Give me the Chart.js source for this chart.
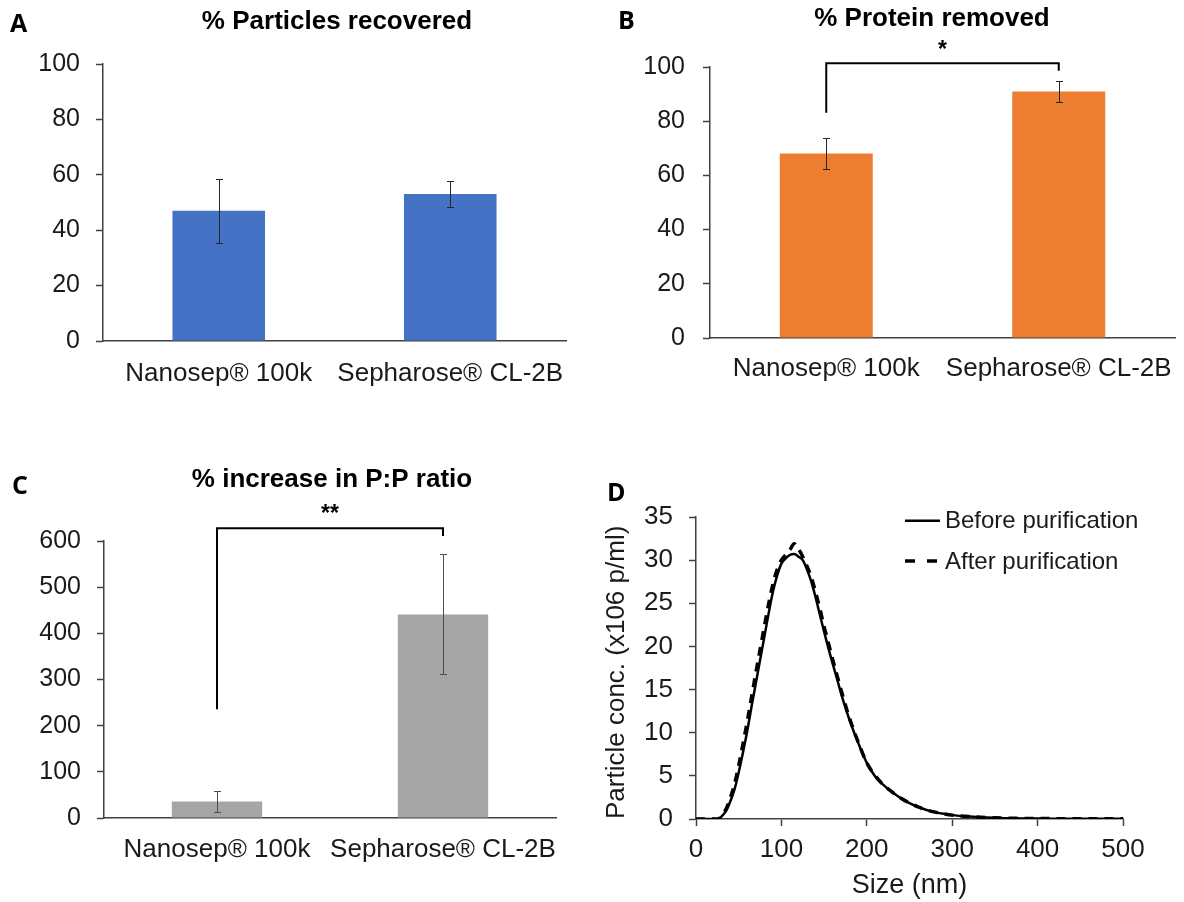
<!DOCTYPE html>
<html lang="en">
<head>
<meta charset="utf-8">
<title>Particle purification comparison</title>
<script src="https://cdn.jsdelivr.net/npm/chart.js@4.4.1/dist/chart.umd.min.js"></script>
<style>
  html, body { margin: 0; padding: 0; background: #ffffff; }
  #fig { position: relative; width: 1184px; height: 902px; overflow: hidden; background: #ffffff; }
  #fig canvas { position: absolute; }
  .panel-label { position: absolute; font-family: "Open Sans", "DejaVu Sans", sans-serif; font-weight: 700; font-size: 25px; line-height: 25px; color: #000; }
</style>
</head>
<body>
<div id="fig">
  <canvas id="chartA" width="590" height="420" style="left:0px;top:0px"></canvas>
  <canvas id="chartB" width="594" height="420" style="left:590px;top:0px"></canvas>
  <canvas id="chartC" width="590" height="442" style="left:0px;top:460px"></canvas>
  <canvas id="chartD" width="594" height="432" style="left:590px;top:470px"></canvas>
  <div class="panel-label" style="left:10px;top:10px">A</div>
  <div class="panel-label" style="left:618px;top:7px">B</div>
  <div class="panel-label" style="left:12px;top:472px">C</div>
  <div class="panel-label" style="left:607px;top:479px">D</div>
</div>
<script>
// ---------------- data ----------------
const categories = ['Nanosep® 100k', 'Sepharose® CL-2B'];

const particlesRecovered    = [47.0, 53.1];
const particlesRecoveredErr = [11.5, 4.6];

const proteinRemoved    = [68.1, 91.0];
const proteinRemovedErr = [5.8, 4.0];

const ppRatioIncrease    = [35.5, 441];
const ppRatioIncreaseErr = [23, 130];

const barTicks100 = [0, 20, 40, 60, 80, 100];
const barTicks600 = [0, 100, 200, 300, 400, 500, 600];
const sizeTicks   = [0, 100, 200, 300, 400, 500];
const concTicks   = [0, 5, 10, 15, 20, 25, 30, 35];

const sizeNm = [0, 10, 20, 26,
  30, 35, 40, 45, 50, 55, 60, 65, 70, 75, 80, 85, 90, 95, 100, 105, 110, 115, 120, 125, 130, 135, 140, 145, 150, 155, 160, 165, 170, 175, 180,
  190, 200, 210, 220, 230, 240, 250, 260, 270, 280, 290, 300,
  320, 340, 360, 380, 400,
  425, 450, 475, 500];
const beforePurification = [0, 0, 0, 0,
  0.3, 0.9, 2.0, 3.4, 5.4, 7.7, 10.2, 13.0, 15.7, 18.4, 21.1, 23.8, 26.3, 28.2, 29.6, 30.2, 30.6, 30.7, 30.4, 30.0, 28.9, 27.5, 25.7, 23.7, 21.7, 19.8, 18.0, 16.3, 14.5, 12.9, 11.4,
  8.8, 6.5, 4.9, 3.9, 3.1, 2.4, 1.85, 1.4, 1.05, 0.8, 0.6, 0.45,
  0.28, 0.17, 0.1, 0.07, 0.05,
  0.04, 0.03, 0.02, 0.02];
const afterPurification = [0, 0, 0, 0,
  0.4, 1.1, 2.4, 4.0, 6.2, 8.7, 11.3, 14.1, 16.9, 19.6, 22.3, 24.9, 27.2, 28.9, 30.0, 30.6, 31.2, 31.9, 31.3, 30.4, 29.3, 28.0, 26.3, 24.4, 22.3, 20.4, 18.5, 16.7, 14.9, 13.2, 11.6,
  8.9, 6.5, 5.0, 3.9, 3.1, 2.4, 1.85, 1.4, 1.05, 0.8, 0.6, 0.45,
  0.28, 0.17, 0.1, 0.07, 0.05,
  0.04, 0.03, 0.02, 0.02];

// ---------------- styling ----------------
const FONT = '"Liberation Sans", Arial, Helvetica, sans-serif';
Chart.defaults.font.family = FONT;
Chart.defaults.color = '#1a1a1a';
Chart.defaults.animation = false;
const AXIS = '#404040';
const Y_FONT = 25;
const X_FONT = 26;

function fixWidth(w) {
  return s => { s.width = w; s.paddingTop = 0; s.paddingBottom = 0; };
}
function fixHeight(h) {
  return s => { s.height = h; s.paddingLeft = 0; s.paddingRight = 0; };
}

// draws titles, error bars, significance brackets and the line legend
const decoPlugin = {
  id: 'deco',
  afterDraw(chart, args, o) {
    const ctx = chart.ctx;
    const xs = chart.scales.x, ys = chart.scales.y;
    ctx.save();
    if (o.errors) {
      const meta = chart.getDatasetMeta(0);
      const vals = chart.data.datasets[0].data;
      ctx.strokeStyle = o.errorColor || '#333';
      ctx.lineWidth = 1;
      meta.data.forEach((bar, i) => {
        const x = Math.round(bar.x) + 0.5;
        const yHi = Math.round(ys.getPixelForValue(vals[i] + o.errors[i])) + 0.5;
        const yLo = Math.round(ys.getPixelForValue(vals[i] - o.errors[i])) + 0.5;
        ctx.beginPath();
        ctx.moveTo(x, yHi); ctx.lineTo(x, yLo);
        ctx.moveTo(x - 3.5, yHi); ctx.lineTo(x + 3.5, yHi);
        ctx.moveTo(x - 3.5, yLo); ctx.lineTo(x + 3.5, yLo);
        ctx.stroke();
      });
    }
    if (o.bracket) {
      const b = o.bracket;
      const x1 = xs.getPixelForValue(b.from), x2 = xs.getPixelForValue(b.to);
      const yTop = ys.getPixelForValue(b.top);
      const y1 = ys.getPixelForValue(b.leftEnd), y2 = ys.getPixelForValue(b.rightEnd);
      ctx.strokeStyle = '#000';
      ctx.lineWidth = 2;
      ctx.beginPath();
      ctx.moveTo(x1, y1); ctx.lineTo(x1, yTop); ctx.lineTo(x2, yTop); ctx.lineTo(x2, y2);
      ctx.stroke();
      ctx.fillStyle = '#000';
      ctx.font = 'bold 23px ' + FONT;
      ctx.textAlign = 'center';
      ctx.textBaseline = 'middle';
      ctx.fillText(b.label, (x1 + x2) / 2, ys.getPixelForValue(b.labelAt));
    }
    if (o.title) {
      ctx.fillStyle = '#000';
      ctx.font = 'bold 26px ' + FONT;
      ctx.textAlign = 'center';
      ctx.textBaseline = 'middle';
      ctx.fillText(o.title.text, o.title.x, o.title.y);
    }
    if (o.legend) {
      const L = o.legend;
      chart.data.datasets.forEach((ds, i) => {
        const y = L.rows[i];
        ctx.strokeStyle = ds.borderColor;
        ctx.lineWidth = ds.borderWidth;
        ctx.setLineDash(L.dashes[i]);
        ctx.beginPath();
        ctx.moveTo(L.x, y); ctx.lineTo(L.x + L.sample, y);
        ctx.stroke();
        ctx.setLineDash([]);
        ctx.fillStyle = '#1a1a1a';
        ctx.font = L.fontSize + 'px ' + FONT;
        ctx.textAlign = 'left';
        ctx.textBaseline = 'middle';
        ctx.fillText(ds.label, L.x + L.sample + L.gap, y + 1);
      });
    }
    ctx.restore();
  }
};

function barConfig(values, errs, color, ticksList, o) {
  return {
    type: 'bar',
    data: {
      labels: categories,
      datasets: [{ data: values, backgroundColor: color, borderWidth: 0, barPercentage: 0.4, categoryPercentage: 1.0 }]
    },
    options: {
      responsive: false, maintainAspectRatio: false, animation: false,
      layout: { padding: { left: 0, top: o.top, right: o.right, bottom: 0 } },
      plugins: {
        legend: { display: false }, tooltip: { enabled: false },
        deco: { title: o.title, errors: errs, errorColor: o.errorColor, bracket: o.bracket }
      },
      scales: {
        x: {
          grid: { display: false, drawTicks: false },
          border: { display: true, color: AXIS, width: 1.5 },
          ticks: { padding: o.xPad, maxRotation: 0, minRotation: 0, autoSkip: false, font: { size: X_FONT }, color: '#1a1a1a' },
          afterFit: fixHeight(o.xHeight)
        },
        y: {
          min: ticksList[0], max: ticksList[ticksList.length - 1],
          afterBuildTicks: s => { s.ticks = ticksList.map(v => ({ value: v })); },
          grid: { drawOnChartArea: false, drawTicks: true, tickLength: 7, color: AXIS, tickWidth: 1.5 },
          border: { display: true, color: AXIS, width: 1.5 },
          ticks: { padding: o.yPad, font: { size: Y_FONT }, color: '#1a1a1a' },
          afterFit: fixWidth(o.yWidth)
        }
      }
    },
    plugins: [decoPlugin]
  };
}

new Chart(document.getElementById('chartA'), barConfig(particlesRecovered, particlesRecoveredErr, '#4472C4', barTicks100, {
  top: 64, right: 24, xHeight: 79, yWidth: 103, yPad: 16, xPad: 17, errorColor: '#262626',
  title: { text: '% Particles recovered', x: 337, y: 22 }
}));

new Chart(document.getElementById('chartB'), barConfig(proteinRemoved, proteinRemovedErr, '#ED7D31', barTicks100, {
  top: 67, right: 9, xHeight: 82, yWidth: 120, yPad: 18, xPad: 15.5, errorColor: '#262626',
  title: { text: '% Protein removed', x: 342, y: 19 },
  bracket: { from: 0, to: 1, top: 101.4, leftEnd: 83.1, rightEnd: 98.6, label: '*', labelAt: 105.9 }
}));

new Chart(document.getElementById('chartC'), barConfig(ppRatioIncrease, ppRatioIncreaseErr, '#A5A5A5', barTicks600, {
  top: 81, right: 34, xHeight: 84, yWidth: 104, yPad: 16, xPad: 16.5, errorColor: '#4d4d4d',
  title: { text: '% increase in P:P ratio', x: 332, y: 20 },
  bracket: { from: 0, to: 1, top: 627.5, leftEnd: 235.7, rightEnd: 610.8, label: '**', labelAt: 657 }
}));

new Chart(document.getElementById('chartD'), {
  type: 'line',
  data: {
    datasets: [
      { label: 'Before purification', data: sizeNm.map((x, i) => ({ x: x, y: beforePurification[i] })),
        borderColor: '#000', borderWidth: 2.5, pointRadius: 0, cubicInterpolationMode: 'monotone', fill: false },
      { label: 'After purification', data: sizeNm.map((x, i) => ({ x: x, y: afterPurification[i] })),
        borderColor: '#000', borderWidth: 3.5, borderDash: [9, 7], pointRadius: 0, cubicInterpolationMode: 'monotone', fill: false }
    ]
  },
  options: {
    responsive: false, maintainAspectRatio: false, animation: false,
    layout: { padding: { left: 0, top: 47, right: 61, bottom: 0 } },
    plugins: {
      legend: { display: false }, tooltip: { enabled: false },
      deco: { legend: { x: 315, rows: [50.7, 91], sample: 35, gap: 5, fontSize: 24, dashes: [[], [10, 12]] } }
    },
    scales: {
      x: {
        type: 'linear', min: sizeTicks[0], max: sizeTicks[sizeTicks.length - 1],
        afterBuildTicks: s => { s.ticks = sizeTicks.map(v => ({ value: v })); },
        grid: { drawOnChartArea: false, drawTicks: true, tickLength: 7, color: AXIS, tickWidth: 1.5 },
        border: { display: true, color: AXIS, width: 1.5 },
        ticks: { padding: 8, maxRotation: 0, font: { size: 26 }, color: '#1a1a1a' },
        title: { display: true, text: 'Size (nm)', font: { size: 27 }, padding: { top: 0, bottom: 0 }, color: '#1a1a1a' },
        afterFit: fixHeight(83)
      },
      y: {
        min: concTicks[0], max: concTicks[concTicks.length - 1],
        afterBuildTicks: s => { s.ticks = concTicks.map(v => ({ value: v })); },
        grid: { drawOnChartArea: false, drawTicks: true, tickLength: 7, color: AXIS, tickWidth: 1.5 },
        border: { display: true, color: AXIS, width: 1.5 },
        ticks: { padding: 16, font: { size: 26 }, color: '#1a1a1a' },
        title: { display: true, text: 'Particle conc. (x106 p/ml)', align: 'start', font: { size: 26 }, padding: { top: 11, bottom: 0 }, color: '#1a1a1a' },
        afterFit: fixWidth(106)
      }
    }
  },
  plugins: [decoPlugin]
});
</script>
</body>
</html>
